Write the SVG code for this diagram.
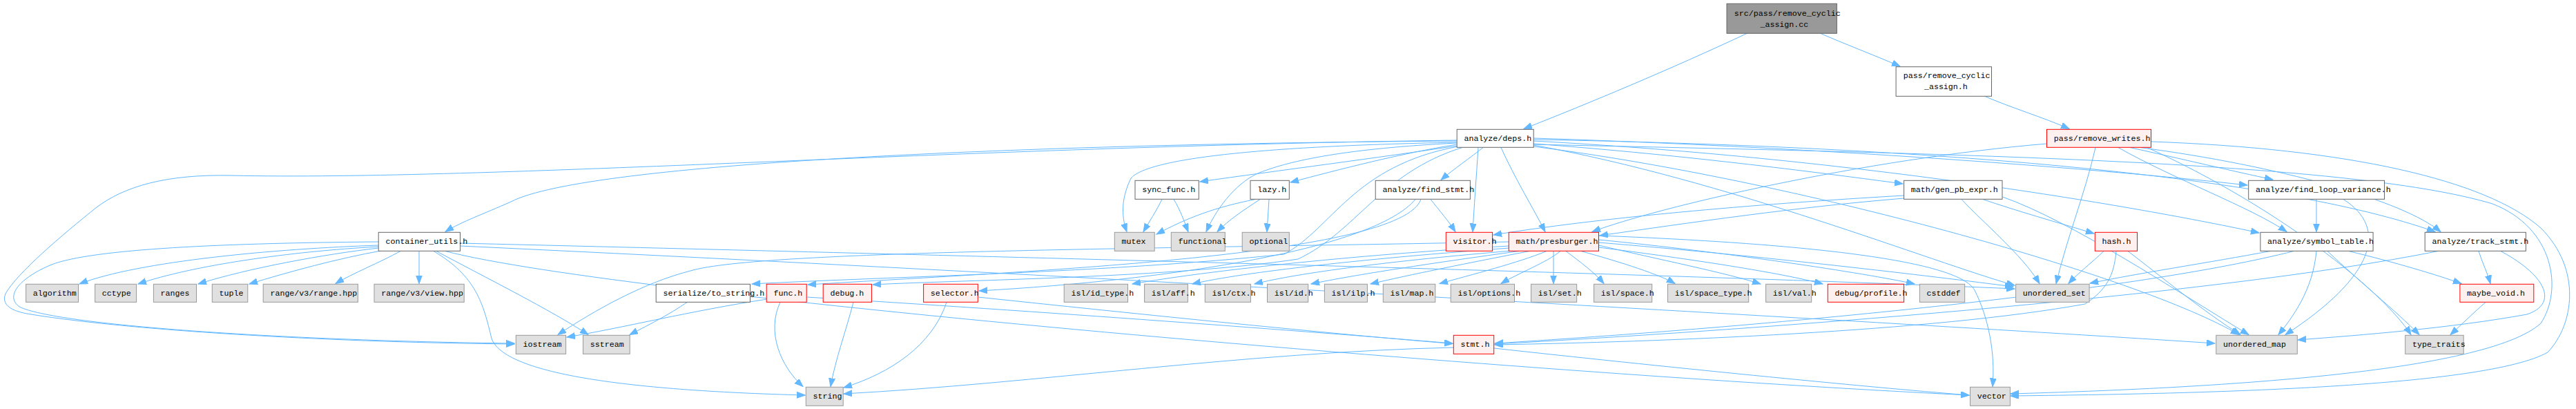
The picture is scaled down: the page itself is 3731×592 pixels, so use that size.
<svg xmlns="http://www.w3.org/2000/svg" width="3731" height="592" viewBox="0 0 3731 592">
<style>
.nd rect{stroke-width:1}
.root rect{fill:#999999;stroke:#666666}
.norm rect{fill:#ffffff;stroke:#666666}
.trunc rect{fill:#fff0f0;stroke:#ff0000}
.sys rect{fill:#e0e0e0;stroke:#999999}
.nd text{font-family:"Liberation Mono","DejaVu Sans Mono",monospace;font-size:11.67px;fill:#000000}
#edges path{fill:none;stroke:#63b8ff;stroke-width:1;marker-end:url(#ah)}
</style>
<defs>
<marker id="ah" markerWidth="13" markerHeight="10" refX="12" refY="4.5" orient="auto" markerUnits="userSpaceOnUse">
<path d="M0,0 L12,4.5 L0,9 z" fill="#63b8ff" stroke="#63b8ff" stroke-width="1"/>
</marker>
</defs>
<rect x="0" y="0" width="3731" height="592" fill="#ffffff"/>
<g id="edges">
<path d="M2531,48 C2420,100 2300,150 2207,186.5"/>
<path d="M2636,48 C2670,63 2715,80 2752,96"/>
<path d="M2874,139 C2910,155 2960,170 2997,186.5"/>
<path d="M2148,213.5 C2130,228 2105,245 2087,260.5"/>
<path d="M2110,211 C2000,228 1850,247 1738,263"/>
<path d="M2110,209 C2030,222 1940,245 1869,264"/>
<path d="M2221,208 C2450,225 2650,252 2756,266"/>
<path d="M2221,200 C2600,212 3000,240 3255,268"/>
<path d="M3085,213.5 C3160,230 3235,248 3292,260"/>
<path d="M2110,204 C1500,208 850,235 740,292 C700,310 670,320 645,335.5"/>
<path d="M2110,203 C1400,212 700,262 335,254 C240,252 180,270 140,300 C90,340 25,395 8,425 C0,445 25,452 45,455 C200,480 500,496 745,498"/>
<path d="M548,350 C300,352 120,362 70,385 C25,405 8,430 28,444 C80,470 400,493 745,497"/>
<path d="M548,355 C400,360 200,378 115,411"/>
<path d="M548,357 C420,364 280,384 200,411"/>
<path d="M548,359 C470,368 360,388 287,411"/>
<path d="M552,363 C490,374 420,393 361,411"/>
<path d="M580,363.5 C550,380 510,396 486,410.5"/>
<path d="M607,363.5 L607,410.5"/>
<path d="M632,363.5 C700,400 800,450 852,484.5"/>
<path d="M628,363.5 C690,400 700,440 712,490 C730,540 900,565 1166,572"/>
<path d="M666.5,352 C1200,365 2400,395 2918,418"/>
<path d="M666.5,356 C1500,395 2800,470 3208,497"/>
<path d="M645,363.5 C900,430 2200,540 2852,572"/>
<path d="M2110,206 C1800,212 1660,232 1638,258 C1625,285 1623,310 1632,335.5"/>
<path d="M1683,288.5 C1675,305 1665,320 1656,335.5"/>
<path d="M1700,288.5 C1710,305 1715,320 1721,335.5"/>
<path d="M1818,288.5 C1760,300 1720,315 1675,339"/>
<path d="M1825,288.5 C1800,305 1780,318 1763,335.5"/>
<path d="M1838,288.5 L1835,335.5"/>
<path d="M2110,207 C1950,215 1870,232 1824,250 C1795,262 1765,295 1747,335.5"/>
<path d="M2141,213.5 C2138,260 2135,300 2133,335.5"/>
<path d="M2174,213.5 C2195,260 2220,300 2238,335.5"/>
<path d="M2072,288.5 C2085,305 2098,320 2108,335.5"/>
<path d="M2050,288.5 C1990,360 1700,405 1418,421"/>
<path d="M2058,288.5 C2030,370 1500,392 1170,412"/>
<path d="M2112,212 C1960,240 1930,330 1860,368 C1600,395 1300,400 1089,411"/>
<path d="M2118,213.5 C2000,250 1965,335 1880,375 C1700,402 1400,405 1264,412"/>
<path d="M2185.5,356 C1950,370 1750,392 1640,411"/>
<path d="M2186,359 C1980,374 1800,394 1727,411"/>
<path d="M2190,363 C2020,377 1880,395 1817,411"/>
<path d="M2200,363.5 C2080,380 1960,398 1899,411"/>
<path d="M2215,363.5 C2130,380 2040,398 1985,411"/>
<path d="M2240,363.5 C2200,380 2130,398 2085,410.5"/>
<path d="M2260,363.5 C2240,380 2200,395 2174,410.5"/>
<path d="M2250,363.5 L2250,410.5"/>
<path d="M2268,363.5 C2290,380 2310,395 2323,410.5"/>
<path d="M2290,363.5 C2350,380 2405,398 2426,410.5"/>
<path d="M2315.5,355 C2400,375 2500,395 2550,411"/>
<path d="M2315.5,358 C2450,375 2580,395 2640,411"/>
<path d="M2315.5,347 C2500,365 2700,395 2773,411"/>
<path d="M2315.5,351 C2550,370 2800,400 2916,415"/>
<path d="M2315.5,341 C2600,352 2835,375 2860,420 C2880,460 2890,510 2886,559.5"/>
<path d="M2185.5,350 C1700,360 1100,362 1000,392 C930,410 860,450 808,484.5"/>
<path d="M1130,437.5 C1110,480 1130,530 1163,559.5"/>
<path d="M1236,437.5 C1225,480 1210,520 1203,559.5"/>
<path d="M1371,437.5 C1350,500 1290,540 1222,561"/>
<path d="M1111,433 C1000,450 900,475 821,488"/>
<path d="M1168.5,430 C1500,450 1900,480 2104,497"/>
<path d="M1416.5,430 C1700,460 1950,485 2104,497.5"/>
<path d="M995,437.5 C970,455 940,470 912,484.5"/>
<path d="M2105,503 C1800,510 1500,555 1222,570"/>
<path d="M2164,504 C2400,530 2700,560 2852,572"/>
<path d="M3047,363.5 C3030,380 3010,395 2996,410.5"/>
<path d="M3065,363.5 C3062,400 3050,420 3020,440 C2800,480 2400,495 2165,499"/>
<path d="M3082,363.5 C3130,400 3190,450 3245,484.5"/>
<path d="M2872,288.5 C2920,305 2980,322 3033,338"/>
<path d="M2841,288.5 C2870,320 2930,370 2954,410.5"/>
<path d="M2900.5,285 C3000,320 3150,420 3257,484.5"/>
<path d="M2757.5,283 C2600,292 2350,310 2163,340"/>
<path d="M2757.5,287 C2600,300 2450,322 2317,341"/>
<path d="M3035,213.5 C3020,280 2995,340 2978,410.5"/>
<path d="M3068,213.5 C3150,260 3260,300 3312,335.5"/>
<path d="M2964.5,208 C2700,230 2400,300 2306,335.5"/>
<path d="M3100,213.5 C3300,240 3480,290 3535,335.5"/>
<path d="M3115.5,205 C3400,215 3600,260 3680,330 C3740,390 3728,470 3690,510 C3600,560 3200,570 2912,573"/>
<path d="M2221,209 C2800,222 3400,232 3610,295 C3700,330 3712,420 3680,468 C3600,540 3200,562 2912,570"/>
<path d="M2221,204 C2700,230 3100,300 3272,337"/>
<path d="M2221,202 C2800,212 3300,255 3527,335.5"/>
<path d="M2221,210 C2500,260 2800,380 2918,413"/>
<path d="M2221,212 C2600,260 3100,400 3243,484.5"/>
<path d="M3355,288.5 L3355,335.5"/>
<path d="M3394,288.5 C3460,330 3440,400 3310,484.5"/>
<path d="M3288,363.5 C3200,380 3100,395 3027,410"/>
<path d="M3322,363.5 C3100,420 2600,470 2165,497"/>
<path d="M3355,363.5 C3350,420 3320,460 3300,484.5"/>
<path d="M3371,363.5 C3420,410 3470,450 3504,484.5"/>
<path d="M3402,363.5 C3470,380 3530,398 3565,410.5"/>
<path d="M3590,363.5 C3595,380 3603,395 3607,410.5"/>
<path d="M3531,363.5 C3200,430 2500,480 2165,498"/>
<path d="M3622,363.5 C3690,400 3705,440 3660,455 C3550,475 3420,485 3328,492"/>
<path d="M3600,437.5 C3580,455 3565,470 3549,484.5"/>
<path d="M3110,213.5 C3300,300 3450,420 3492,484.5"/>
</g>
<g id="node-root" class="nd root"><rect x="2501" y="5.3" width="159.4" height="43"/><text x="2511.8" y="23.3">src/pass/remove_cyclic</text><text x="2549.4" y="39.3">_assign.cc</text></g>
<g id="node-deps" class="nd norm"><rect x="2110.2" y="187.3" width="111" height="26"/><text x="2120.4" y="203.8">analyze/deps.h</text></g>
<g id="node-rca" class="nd norm"><rect x="2746.1" y="96.7" width="138.4" height="42.6"/><text x="2756.7" y="113.3">pass/remove_cyclic</text><text x="2786.9" y="129.3">_assign.h</text></g>
<g id="node-rw" class="nd trunc"><rect x="2964.5" y="187.3" width="151" height="26"/><text x="2974.7" y="203.8">pass/remove_writes.h</text></g>
<g id="node-find_stmt" class="nd norm"><rect x="1992.2" y="261.3" width="137.2" height="27"/><text x="2002.4" y="278.3">analyze/find_stmt.h</text></g>
<g id="node-sync_func" class="nd norm"><rect x="1644" y="261.3" width="92.3" height="27"/><text x="1654.2" y="278.3">sync_func.h</text></g>
<g id="node-lazy" class="nd norm"><rect x="1811" y="261.3" width="56.3" height="27"/><text x="1821.2" y="278.3">lazy.h</text></g>
<g id="node-gen_pb" class="nd norm"><rect x="2757.6" y="261.3" width="142.4" height="27"/><text x="2767.8" y="278.3">math/gen_pb_expr.h</text></g>
<g id="node-flv" class="nd norm"><rect x="3256.7" y="261.3" width="196.8" height="27"/><text x="3266.9" y="278.3">analyze/find_loop_variance.h</text></g>
<g id="node-cu" class="nd norm"><rect x="548.2" y="336.3" width="118.3" height="27"/><text x="558.4" y="353.3">container_utils.h</text></g>
<g id="node-mutex" class="nd sys"><rect x="1614.3" y="336.3" width="57.9" height="27"/><text x="1624.5" y="353.3">mutex</text></g>
<g id="node-functional" class="nd sys"><rect x="1696.3" y="336.3" width="78" height="27"/><text x="1706.5" y="353.3">functional</text></g>
<g id="node-optional" class="nd sys"><rect x="1799.2" y="336.3" width="68.1" height="27"/><text x="1809.4" y="353.3">optional</text></g>
<g id="node-visitor" class="nd trunc"><rect x="2094.3" y="336.3" width="67.3" height="27"/><text x="2104.5" y="353.3">visitor.h</text></g>
<g id="node-presburger" class="nd trunc"><rect x="2185.3" y="336.3" width="130.2" height="27"/><text x="2195.5" y="353.3">math/presburger.h</text></g>
<g id="node-hash" class="nd trunc"><rect x="3034.3" y="336.3" width="61.2" height="27"/><text x="3044.5" y="353.3">hash.h</text></g>
<g id="node-symbol_table" class="nd norm"><rect x="3273.9" y="336.3" width="163.2" height="27"/><text x="3284.1" y="353.3">analyze/symbol_table.h</text></g>
<g id="node-track_stmt" class="nd norm"><rect x="3512.2" y="336.3" width="146.2" height="27"/><text x="3522.4" y="353.3">analyze/track_stmt.h</text></g>
<g id="node-algorithm" class="nd sys"><rect x="37.6" y="411.3" width="75.9" height="26"/><text x="47.8" y="427.8">algorithm</text></g>
<g id="node-cctype" class="nd sys"><rect x="137.6" y="411.3" width="60" height="26"/><text x="147.8" y="427.8">cctype</text></g>
<g id="node-ranges" class="nd sys"><rect x="222.4" y="411.3" width="62.1" height="26"/><text x="232.6" y="427.8">ranges</text></g>
<g id="node-tuple" class="nd sys"><rect x="307.3" y="411.3" width="51.5" height="26"/><text x="317.5" y="427.8">tuple</text></g>
<g id="node-range_hpp" class="nd sys"><rect x="381.2" y="411.3" width="137.2" height="26"/><text x="391.4" y="427.8">range/v3/range.hpp</text></g>
<g id="node-view_hpp" class="nd sys"><rect x="542" y="411.3" width="130.2" height="26"/><text x="552.2" y="427.8">range/v3/view.hpp</text></g>
<g id="node-to_string" class="nd norm"><rect x="950.2" y="411.3" width="136.3" height="26"/><text x="960.4" y="427.8">serialize/to_string.h</text></g>
<g id="node-func" class="nd trunc"><rect x="1110.2" y="411.3" width="58" height="26"/><text x="1120.4" y="427.8">func.h</text></g>
<g id="node-debug" class="nd trunc"><rect x="1192.2" y="411.3" width="70.2" height="26"/><text x="1202.4" y="427.8">debug.h</text></g>
<g id="node-selector" class="nd trunc"><rect x="1337.6" y="411.3" width="78.7" height="26"/><text x="1347.8" y="427.8">selector.h</text></g>
<g id="node-isl_id_type" class="nd sys"><rect x="1541.2" y="411.3" width="92.3" height="26"/><text x="1551.4" y="427.8">isl/id_type.h</text></g>
<g id="node-isl_aff" class="nd sys"><rect x="1657.6" y="411.3" width="62.8" height="26"/><text x="1667.8" y="427.8">isl/aff.h</text></g>
<g id="node-isl_ctx" class="nd sys"><rect x="1745.3" y="411.3" width="66.1" height="26"/><text x="1755.5" y="427.8">isl/ctx.h</text></g>
<g id="node-isl_id" class="nd sys"><rect x="1835.5" y="411.3" width="59.2" height="26"/><text x="1845.7" y="427.8">isl/id.h</text></g>
<g id="node-isl_ilp" class="nd sys"><rect x="1918.4" y="411.3" width="62" height="26"/><text x="1928.6" y="427.8">isl/ilp.h</text></g>
<g id="node-isl_map" class="nd sys"><rect x="2003.3" y="411.3" width="75.5" height="26"/><text x="2013.5" y="427.8">isl/map.h</text></g>
<g id="node-isl_options" class="nd sys"><rect x="2101.2" y="411.3" width="92.3" height="26"/><text x="2111.4" y="427.8">isl/options.h</text></g>
<g id="node-isl_set" class="nd sys"><rect x="2217.6" y="411.3" width="66.1" height="26"/><text x="2227.8" y="427.8">isl/set.h</text></g>
<g id="node-isl_space" class="nd sys"><rect x="2308.6" y="411.3" width="84.1" height="26"/><text x="2318.8" y="427.8">isl/space.h</text></g>
<g id="node-isl_space_type" class="nd sys"><rect x="2415.5" y="411.3" width="117.2" height="26"/><text x="2425.7" y="427.8">isl/space_type.h</text></g>
<g id="node-isl_val" class="nd sys"><rect x="2557.6" y="411.3" width="66.1" height="26"/><text x="2567.8" y="427.8">isl/val.h</text></g>
<g id="node-profile" class="nd trunc"><rect x="2647.3" y="411.3" width="110.3" height="26"/><text x="2657.5" y="427.8">debug/profile.h</text></g>
<g id="node-cstddef" class="nd sys"><rect x="2780.4" y="411.3" width="65.3" height="26"/><text x="2790.6" y="427.8">cstddef</text></g>
<g id="node-unordered_set" class="nd sys"><rect x="2919.6" y="411.3" width="106.5" height="26"/><text x="2929.8" y="427.8">unordered_set</text></g>
<g id="node-maybe_void" class="nd trunc"><rect x="3562.9" y="411.3" width="106.9" height="26"/><text x="3573.1" y="427.8">maybe_void.h</text></g>
<g id="node-iostream" class="nd sys"><rect x="747.3" y="485.3" width="72.3" height="27"/><text x="757.5" y="502.3">iostream</text></g>
<g id="node-sstream" class="nd sys"><rect x="844.5" y="485.3" width="67.7" height="27"/><text x="854.7" y="502.3">sstream</text></g>
<g id="node-stmt" class="nd trunc"><rect x="2105.3" y="485.3" width="58.4" height="27"/><text x="2115.5" y="502.3">stmt.h</text></g>
<g id="node-unordered_map" class="nd sys"><rect x="3209.8" y="485.3" width="117.5" height="27"/><text x="3220" y="502.3">unordered_map</text></g>
<g id="node-type_traits" class="nd sys"><rect x="3483.7" y="485.3" width="84.5" height="27"/><text x="3493.9" y="502.3">type_traits</text></g>
<g id="node-string" class="nd sys"><rect x="1167.3" y="560.3" width="53.9" height="27"/><text x="1177.5" y="577.3">string</text></g>
<g id="node-vector" class="nd sys"><rect x="2853.5" y="560.3" width="57.9" height="27"/><text x="2863.7" y="577.3">vector</text></g>
</svg>
